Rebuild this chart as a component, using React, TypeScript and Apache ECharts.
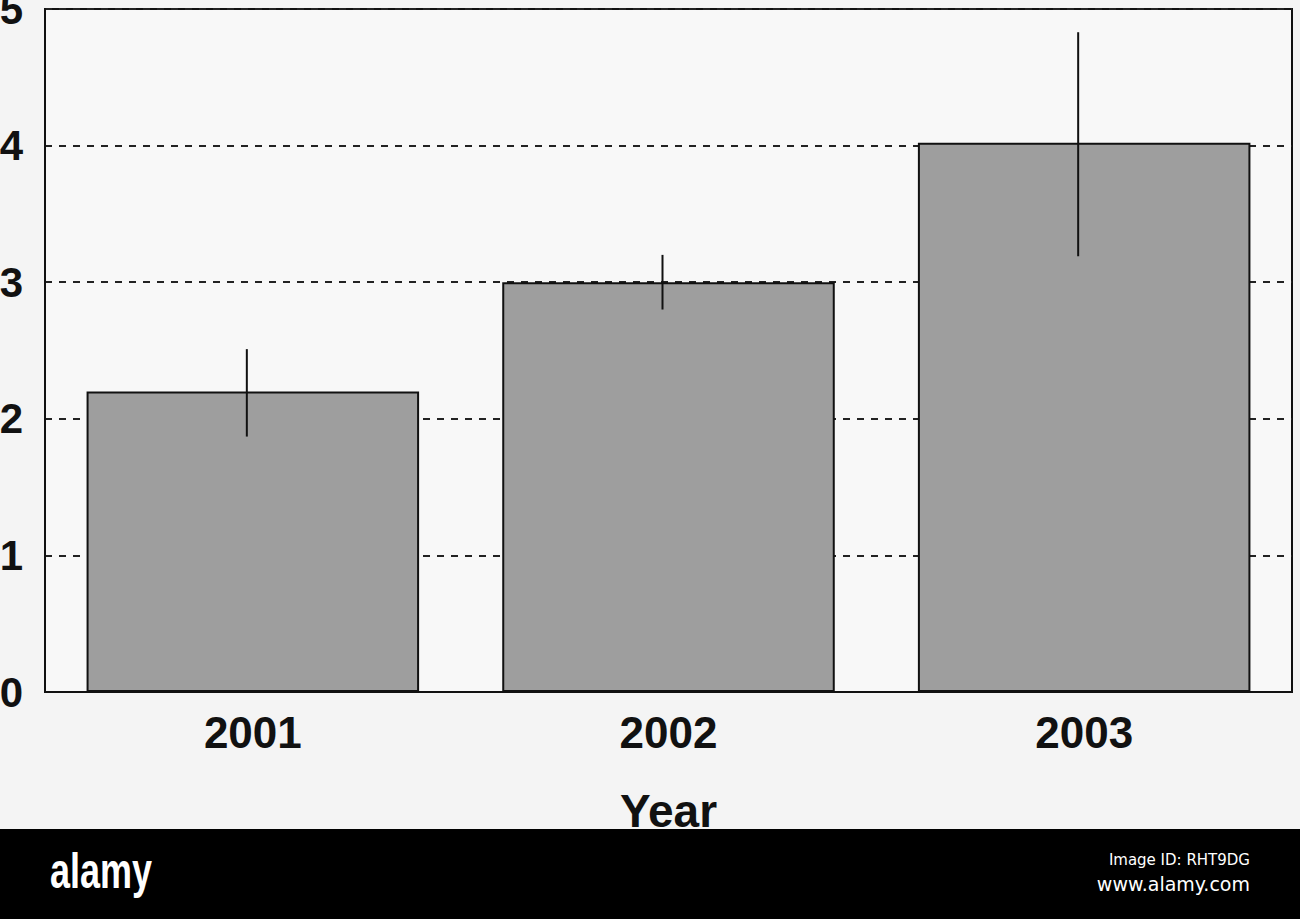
import React, { useEffect, useRef } from "react";
import * as echarts from "echarts";

const years = ["2001", "2002", "2003"];
const means = [2.2, 3.0, 4.02];
const lows = [1.87, 2.8, 3.19];
const highs = [2.51, 3.2, 4.83];
const yTicks = [0, 1, 2, 3, 4, 5];

export default function App() {
  const ref = useRef<HTMLDivElement>(null);
  useEffect(() => {
    document.body.style.margin = "0";
    const chart = echarts.init(ref.current!, null, { renderer: "svg" });
    const font = "'Liberation Sans', Arial, sans-serif";
    chart.setOption({
      animation: false,
      backgroundColor: "#f4f4f4",
      grid: {
        left: 45,
        right: 8,
        top: 9,
        bottom: 227,
        show: true,
        backgroundColor: "#f8f8f8",
        borderColor: "#111",
        borderWidth: 2,
        outerBoundsMode: "none",
      },
      xAxis: {
        type: "category",
        data: years,
        name: "Year",
        nameLocation: "middle",
        nameGap: 96,
        nameTextStyle: { fontFamily: font, fontWeight: "bold", fontSize: 46, color: "#111" },
        axisLine: { lineStyle: { color: "#111", width: 2 } },
        axisTick: { show: false },
        axisLabel: { fontFamily: font, fontWeight: "bold", fontSize: 44, color: "#111", margin: 18 },
      },
      yAxis: {
        type: "value",
        min: yTicks[0],
        max: yTicks[yTicks.length - 1],
        interval: 1,
        axisLine: { show: true, lineStyle: { color: "#111", width: 2 } },
        axisTick: { show: false },
        axisLabel: {
          fontFamily: font,
          fontWeight: "bold",
          fontSize: 42,
          color: "#111",
          margin: 22,
          formatter: (v: number) => String(v),
        },
        splitLine: { show: true, lineStyle: { color: "#222", width: 2, type: [7, 7] } },
      },
      series: [
        {
          type: "bar",
          data: means,
          barWidth: "80%",
          itemStyle: { color: "#9e9e9e", borderColor: "#111", borderWidth: 2 },
          z: 2,
        },
        {
          type: "custom",
          z: 3,
          data: years.map((_, i) => [i, lows[i], highs[i]]),
          encode: { x: 0, y: [1, 2] },
          renderItem: (params: any, api: any) => {
            const p1 = api.coord([api.value(0), api.value(1)]);
            const p2 = api.coord([api.value(0), api.value(2)]);
            return {
              type: "line",
              shape: { x1: p1[0] - 6, y1: p1[1], x2: p2[0] - 6, y2: p2[1] },
              style: { stroke: "#111", lineWidth: 2 },
            };
          },
        },
      ],
      graphic: [
        { type: "rect", left: 0, top: 829, shape: { width: 1300, height: 90 }, style: { fill: "#000" }, z: 10 },
        {
          type: "text",
          x: 50,
          y: 846,
          scaleX: 0.72,
          style: { text: "alamy", fill: "#fff", font: "bold 50px 'Liberation Sans', Arial, sans-serif" },
          z: 11,
        },
        {
          type: "text",
          x: 1250,
          y: 852,
          style: { text: "Image ID: RHT9DG", fill: "#fff", align: "right", font: "15px 'DejaVu Sans', sans-serif" },
          z: 11,
        },
        {
          type: "text",
          x: 1250,
          y: 874,
          style: { text: "www.alamy.com", fill: "#fff", align: "right", font: "19px 'DejaVu Sans', sans-serif" },
          z: 11,
        },
      ],
    });
    return () => chart.dispose();
  }, []);
  return <div ref={ref} style={{ position: "absolute", left: 0, top: 0, width: 1300, height: 919 }} />;
}
